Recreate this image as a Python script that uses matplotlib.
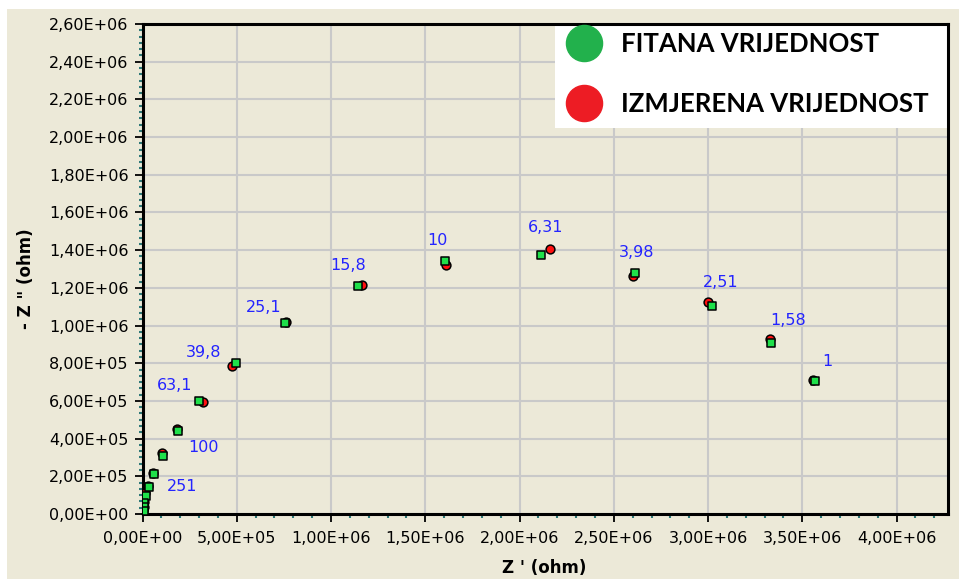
import matplotlib
matplotlib.use("Agg")
import matplotlib.pyplot as plt
import matplotlib.ticker as ticker
from matplotlib.lines import Line2D
from matplotlib.patches import Rectangle
import numpy as np

###########################
# DATA (ohm, x1e6)
###########################
fit_x = [3.565, 3.336, 3.023, 2.612, 2.116, 1.603, 1.141, 0.757, 0.495, 0.302,
         0.189, 0.110, 0.061, 0.035, 0.017, 0.010, 0.008, 0.006]
fit_y = [0.706, 0.906, 1.105, 1.277, 1.374, 1.342, 1.210, 1.012, 0.800, 0.601,
         0.440, 0.308, 0.212, 0.145, 0.096, 0.060, 0.035, 0.016]
meas_x = [3.554, 3.331, 3.000, 2.601, 2.160, 1.608, 1.164, 0.762, 0.474, 0.320,
          0.182, 0.105, 0.056, 0.029, 0.013, 0.010, 0.006, 0.004]
meas_y = [0.711, 0.927, 1.126, 1.263, 1.405, 1.321, 1.215, 1.020, 0.785, 0.596,
          0.451, 0.325, 0.219, 0.151, 0.111, 0.064, 0.037, 0.016]
# frequency labels (Hz) and the point index they belong to
freq_labels = ["1", "1,58", "2,51", "3,98", "6,31", "10", "15,8", "25,1",
               "39,8", "63,1", "100", "251"]
freq_index = [0, 1, 2, 3, 4, 5, 6, 7, 8, 9, 10, 13]
# label offsets in pixels from the point
label_offsets = [(13, 19), (17, 23), (8, 23), (2, 21), (4, 28), (-7, 21),
                 (-9, 20), (-22, 16), (-32, 11), (-25, 15), (25, -16), (33, 0)]

fit_x = np.array(fit_x) * 1e6
fit_y = np.array(fit_y) * 1e6
meas_x = np.array(meas_x) * 1e6
meas_y = np.array(meas_y) * 1e6

###########################
# PLOT PARAMETERS
###########################
BG = '#ECE9D8'
GREEN = '#1FE04A'
RED = '#FF1010'
LABEL_BLUE = '#2424FF'
plt.rc('font', family='DejaVu Sans', size=11.5)

fig = plt.figure(figsize=(9.59, 5.79), dpi=100)
fig.patch.set_facecolor('white')
fig.patches.append(Rectangle((7 / 959, 0), 1, (579 - 9) / 579, transform=fig.transFigure,
                             facecolor=BG, edgecolor='none', zorder=-10))

ax = fig.add_axes([142.5 / 959, 65 / 579, 805 / 959, 490 / 579])
ax.set_facecolor(BG)

ax.scatter(meas_x, meas_y, marker='o', s=40, color=RED, edgecolor='black', linewidth=1.1, zorder=3)
ax.scatter(fit_x, fit_y, marker='s', s=40, color=GREEN, edgecolor='black', linewidth=1.1, zorder=4)

for lab, i, off in zip(freq_labels, freq_index, label_offsets):
    ax.annotate(lab, (fit_x[i], fit_y[i]), xytext=off, textcoords='offset pixels',
                ha='center', va='center', color=LABEL_BLUE, fontsize=11.5, zorder=5)

ax.set_xlim(0, 4.27e6)
ax.set_ylim(0, 2.6e6)
ax.xaxis.set_major_locator(ticker.MultipleLocator(5e5))
ax.xaxis.set_minor_locator(ticker.AutoMinorLocator(5))
ax.yaxis.set_major_locator(ticker.MultipleLocator(2e5))
ax.yaxis.set_minor_locator(ticker.AutoMinorLocator(6))

fmt = ticker.FuncFormatter(lambda v, pos: f"{v:.2E}".replace('.', ','))
ax.xaxis.set_major_formatter(fmt)
ax.yaxis.set_major_formatter(fmt)

ax.tick_params(which='major', direction='out', length=6, width=1.3, color='black')
ax.tick_params(which='minor', direction='out', length=3, width=1.5, color='#2E7878')
ax.tick_params(axis='x', which='major', pad=6)
ax.tick_params(axis='y', which='major', pad=4)

ax.grid(True, which='major', color='#C9C9C9', linewidth=1.5)
ax.set_axisbelow(True)
for s in ax.spines.values():
    s.set_linewidth(2.2)
    s.set_color('black')

ax.set_xlabel("Z ' (ohm)", fontweight='bold', fontsize=12)
ax.set_ylabel('- Z " (ohm)', fontweight='bold', fontsize=12)
ax.xaxis.set_label_coords(0.499, -0.092)
ax.yaxis.set_label_coords(-0.1335, 0.48)

# white legend panel in the upper right corner
leg_left = (555 - 142.5) / 805
leg_bottom = (514 - 128) / 490
ax.add_patch(Rectangle((leg_left, leg_bottom), 1 - leg_left, 1 - leg_bottom,
                       transform=ax.transAxes, facecolor='white', edgecolor='none',
                       zorder=2.4))
handles = [Line2D([], [], ls='', marker='o', markersize=26, color='#22B14C'),
           Line2D([], [], ls='', marker='o', markersize=26, color='#ED1C24')]
leg = ax.legend(handles, ["FITANA VRIJEDNOST", "IZMJERENA VRIJEDNOST"],
                loc='upper left', bbox_to_anchor=(leg_left, 1 - 3 / 490), borderaxespad=0,
                prop={'family': 'Lato', 'weight': 'bold', 'size': 18.5},
                frameon=False, borderpad=0.2, handlelength=1.87, handletextpad=0.5,
                labelspacing=1.38)
leg.set_zorder(10)

plt.savefig("out.png", dpi=100, facecolor=fig.get_facecolor())
